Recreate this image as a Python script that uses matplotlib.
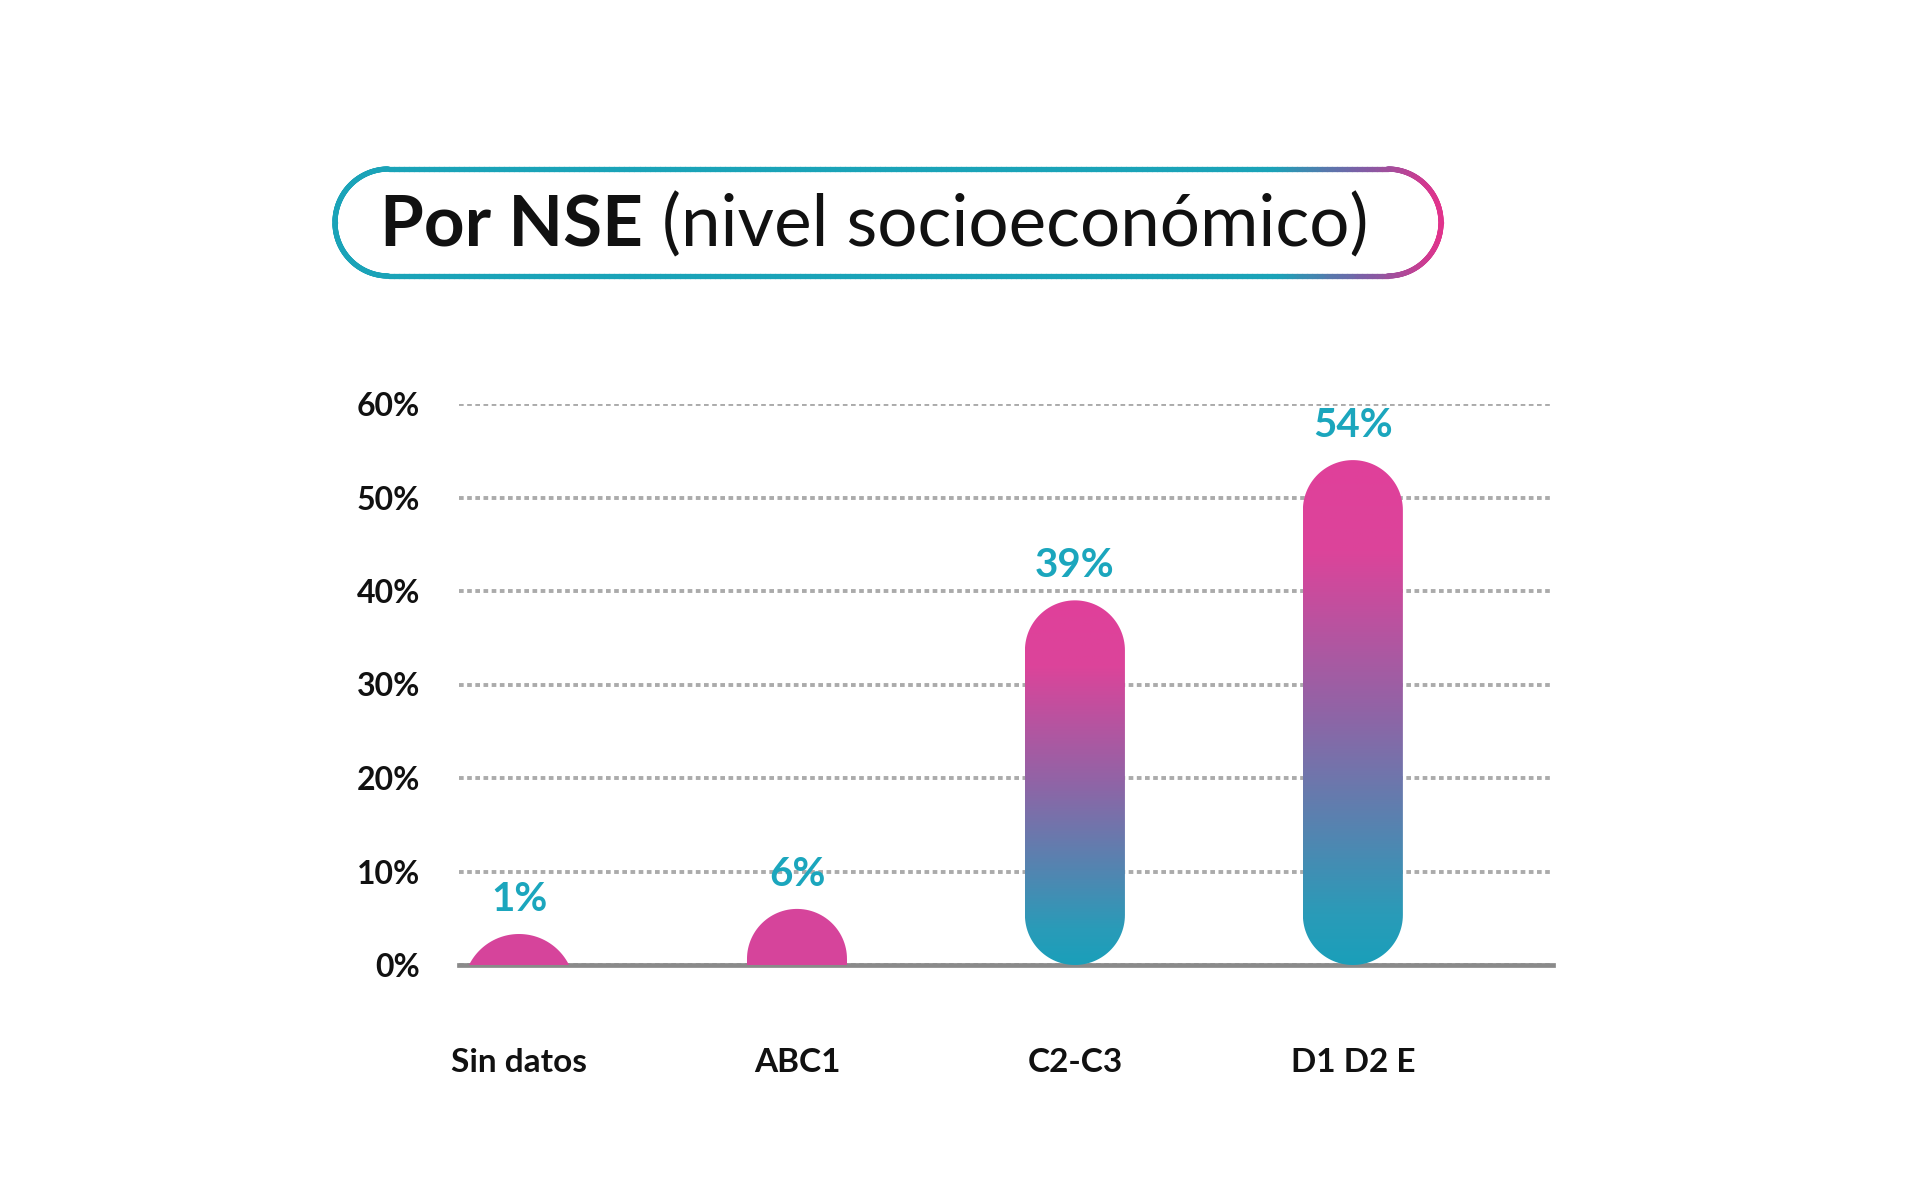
import numpy as np
import matplotlib
matplotlib.use("Agg")
import matplotlib.pyplot as plt
from matplotlib.patches import Polygon
from matplotlib.collections import LineCollection
from matplotlib.colors import LinearSegmentedColormap

# datos
categorias = ["Sin datos", "ABC1", "C2-C3", "D1 D2 E"]
valores = [1, 6, 39, 54]
etiquetas = ["1%", "6%", "39%", "54%"]
yticks = [0, 10, 20, 30, 40, 50, 60]
ytick_labels = ["0%", "10%", "20%", "30%", "40%", "50%", "60%"]
titulo_negrita = "Por NSE"
titulo_resto = "(nivel socioeconómico)"

plt.rcParams['font.family'] = ['Lato', 'DejaVu Sans']

W, H = 1920, 1195
fig = plt.figure(figsize=(W / 100, H / 100), dpi=100)
fig.patch.set_facecolor("white")

# posicion del grafico en pixeles
ax_left, ax_right, ax_top, ax_bot = 459, 1553, 404, 965
xlim = (-0.216, 3.72)
ylim = (0, 60)
ax = fig.add_axes([ax_left / W, 1 - ax_bot / H, (ax_right - ax_left) / W, (ax_bot - ax_top) / H])
ax.set_xlim(*xlim)
ax.set_ylim(*ylim)
sx = (ax_right - ax_left) / (xlim[1] - xlim[0])   # px por unidad x
sy = (ax_bot - ax_top) / (ylim[1] - ylim[0])      # px por unidad y

rosa = "#e0409a"
grad = LinearSegmentedColormap.from_list(
    "g", [(0, "#1a9fba"), (0.1, "#2a9bb8"), (0.5, "#9064a6"), (0.82, "#dc449a"), (1, rosa)])

bar_px = 100          # ancho de barra en px
min_px = 31           # altura minima visible
r_px = bar_px / 2


def forma(xc, v):
    """contorno redondeado de la barra (en px, luego a datos)"""
    h = max(v * sy, min_px)
    a = r_px
    if h < r_px:
        R = (a ** 2 + h ** 2) / (2 * h)
        cy = h - R
        ang0 = np.arcsin(a / R)
        t = np.linspace(-ang0, ang0, 60)
        pts = np.column_stack([R * np.sin(t), cy + R * np.cos(t)])
        pts = np.vstack([pts, [[a, 0], [-a, 0]]])
    else:
        t = np.linspace(0, np.pi, 60)
        top = np.column_stack([a * np.cos(t), h - r_px + r_px * np.sin(t)])
        if h >= 2 * r_px:
            tb = np.linspace(np.pi, 2 * np.pi, 60)
            bot = np.column_stack([a * np.cos(tb), r_px + r_px * np.sin(tb)])
        else:
            bot = np.array([[-a, 0], [a, 0]])
        pts = np.vstack([top, bot])
    pts[:, 0] = xc + pts[:, 0] / sx
    pts[:, 1] = pts[:, 1] / sy
    return pts, h / sy


x = np.arange(len(categorias))
for xi, v, lab in zip(x, valores, etiquetas):
    pts, htop = forma(xi, v)
    if v >= 10:
        poly = Polygon(pts, closed=True, facecolor="none", edgecolor="none", zorder=3)
        ax.add_patch(poly)
        im = ax.imshow(np.linspace(0, 1, 256).reshape(-1, 1), cmap=grad, origin="lower",
                       extent=(xi - r_px / sx, xi + r_px / sx, 0, htop), aspect="auto", zorder=3)
        im.set_clip_path(poly)
    else:
        ax.add_patch(Polygon(pts, closed=True, facecolor="#d6449b", edgecolor="none", zorder=3))
    ax.annotate(lab, (xi, htop), xytext=(0, 25), textcoords="offset points",
                ha="center", va="center", fontsize=29, fontweight="bold", color="#1ba6bd",
                annotation_clip=False)

ax.set_xlim(*xlim)
ax.set_ylim(*ylim)

ax.set_yticks(yticks)
ax.set_yticklabels(ytick_labels, fontsize=23, fontweight="bold", color="#111111")
ax.set_xticks(x)
ax.set_xticklabels(categorias, fontsize=24, fontweight="bold", color="#111111")
ax.tick_params(axis="y", length=0, pad=28)
ax.tick_params(axis="x", length=0, pad=60)
ax.grid(axis="y", linestyle=(0, (1.2, 0.9)), linewidth=2.8, color="#ababab")
ax.set_axisbelow(True)
for s in ["top", "right", "left"]:
    ax.spines[s].set_visible(False)
ax.spines["bottom"].set_color("#8a8a8a")
ax.spines["bottom"].set_linewidth(3.4)
ax.spines["bottom"].set_zorder(2)

# caja del titulo
ov = fig.add_axes([0, 0, 1, 1], zorder=-1)
ov.set_xlim(0, W)
ov.set_ylim(H, 0)
ov.axis("off")
bx0, bx1, by0, by1 = 335, 1441, 169, 276
br = (by1 - by0) / 2
n = 200
seg_top = np.column_stack([np.linspace(bx0 + br, bx1 - br, n), np.full(n, by0)])
t = np.linspace(-np.pi / 2, np.pi / 2, n)
arc_r = np.column_stack([bx1 - br + br * np.cos(t), by0 + br + br * np.sin(t)])
seg_bot = np.column_stack([np.linspace(bx1 - br, bx0 + br, n), np.full(n, by1)])
t2 = np.linspace(np.pi / 2, 3 * np.pi / 2, n)
arc_l = np.column_stack([bx0 + br + br * np.cos(t2), by0 + br + br * np.sin(t2)])
path = np.vstack([seg_top, arc_r, seg_bot, arc_l, seg_top[:1]])
segs = np.stack([path[:-1], path[1:]], axis=1)
xm = (segs[:, 0, 0] + segs[:, 1, 0]) / 2
frac = (xm - bx0) / (bx1 - bx0)
borde = LinearSegmentedColormap.from_list(
    "b", [(0, "#1aa3b8"), (0.85, "#1aa3b8"), (0.93, "#7c5fa6"), (1, "#e0338c")])
lc = LineCollection(segs, colors=borde(frac), linewidth=3.8, capstyle="round")
ov.add_collection(lc)

t1 = ov.text(380, 246, titulo_negrita, fontsize=51, fontweight="bold", color="#111111",
             ha="left", va="baseline")
ov.annotate(titulo_resto, xy=(1, 0), xycoords=t1, xytext=(14, 0), textcoords="offset points",
            fontsize=51, color="#111111", ha="left", va="bottom")

fig.savefig("out.png", dpi=100, facecolor="white")
